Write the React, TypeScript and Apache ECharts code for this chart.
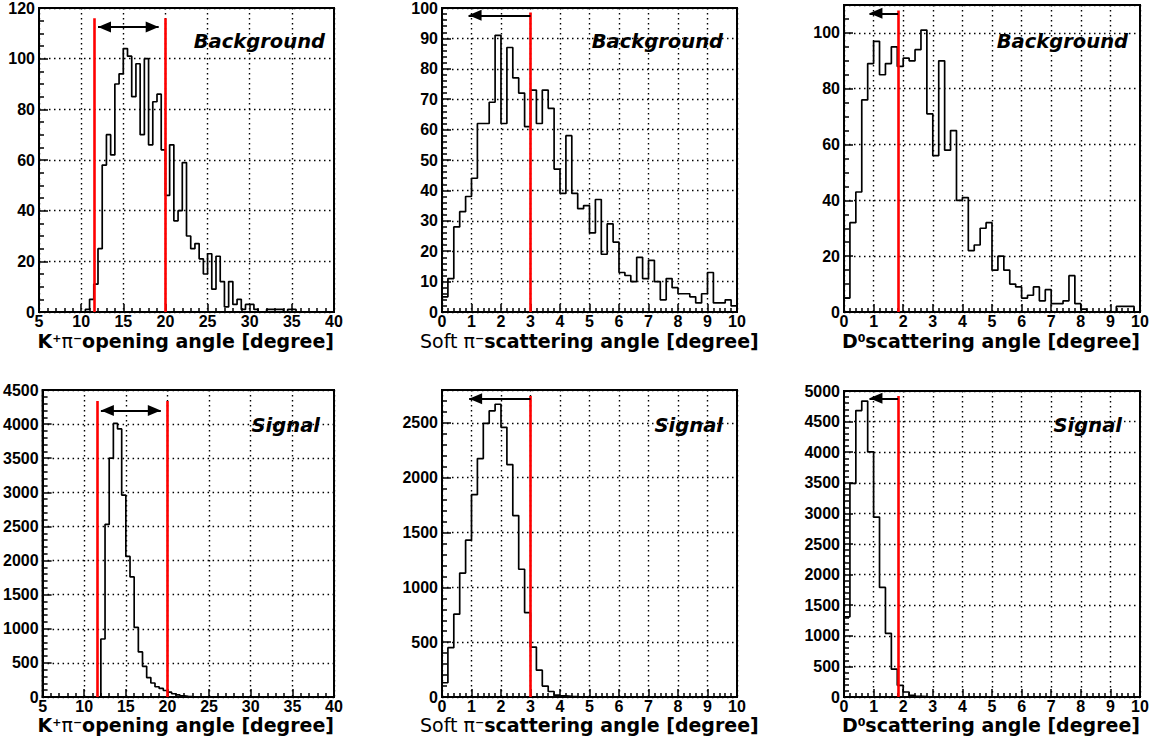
import React, { useEffect, useRef } from "react";
import * as echarts from "echarts";

// ---------- data (counts per bin) ----------
const openingBinWidth = 0.5; // degrees
const scatterBinWidth = 0.2; // degrees

// Background, K+pi- opening angle, first bin starts at 10.5 deg
const bgOpeningStart = 10.5;
const bgOpening = [1, 5, 11, 25, 58, 70, 62, 90, 94, 104, 101, 85, 98, 70, 100, 66, 83, 86, 64, 46, 66, 36, 40, 59, 30, 25, 27, 21, 15, 23, 9, 22, 12, 2, 12, 3, 5, 1, 3, 3, 1, 0, 0, 1, 1, 1, 1, 0, 1, 1];

// Background, soft pi scattering angle, first bin starts at 0
const bgSoftPiStart = 0;
const bgSoftPi = [5, 11, 28, 33, 38, 44, 62, 62, 69, 91, 62, 87, 77, 72, 61, 73, 62, 73, 67, 47, 39, 58, 39, 34, 35, 26, 37, 19, 29, 23, 13, 12, 10, 18, 11, 17, 10, 4, 11, 8, 6, 6, 5, 3, 6, 13, 3, 3, 4, 2];

// Background, D0 scattering angle, first bin starts at 0
const bgD0Start = 0;
const bgD0 = [5, 32, 43, 76, 89, 97, 85, 89, 95, 88, 91, 90, 94, 101, 71, 56, 90, 58, 65, 40, 41, 22, 24, 30, 32, 15, 20, 15, 10, 9, 5, 6, 9, 4, 8, 3, 3, 4, 13, 3, 1, 0, 0, 0, 0, 0, 2, 2, 2, 0];

// Signal, K+pi- opening angle, first bin starts at 12 deg
const sigOpeningStart = 12;
const sigOpening = [850, 2530, 3500, 4010, 3930, 2960, 2060, 1760, 1020, 660, 450, 285, 205, 150, 125, 95, 70, 48, 30, 18, 10, 5, 3, 2];

// Signal, soft pi scattering angle
const sigSoftPiStart = 0;
const sigSoftPi = [130, 450, 755, 1130, 1430, 1845, 2175, 2495, 2610, 2670, 2460, 2120, 1655, 1165, 770, 455, 245, 100, 50, 18, 10, 5, 3, 2, 1];

// Signal, D0 scattering angle
const sigD0Start = 0;
const sigD0 = [1310, 3490, 4680, 4835, 4005, 2940, 1790, 1040, 455, 190, 82, 27, 10, 5, 2];

// Cut values (red lines) and arrow annotations
const openingCuts = [11.6, 20.0];
const softPiCut = [3.0];
const d0Cut = [1.83];
// red line top, arrow y, arrow tip(s)
const bgOpeningMark = { top: 116, arrowY: 112.5, tips: [12.0, 19.2] };
const sigOpeningMark = { top: 4340, arrowY: 4200, tips: [12.0, 19.2] };
const bgSoftPiMark = { top: 98.5, arrowY: 97.6, tips: [0.9] };
const sigSoftPiMark = { top: 2745, arrowY: 2720, tips: [0.92] };
const bgD0Mark = { top: 108, arrowY: 107, tips: [0.86] };
const sigD0Mark = { top: 4920, arrowY: 4880, tips: [0.86] };

// axis ranges: [min, max, interval, minor splits]
const openingX = [5, 40, 5, 5];
const scatterX = [0, 10, 1, 5];
const bgOpeningY = [0, 120, 20, 4];
const bgSoftPiY = [0, 100, 10, 5];
const bgD0Y = [0, 110, 20, 4];
const sigOpeningY = [0, 4500, 500, 5];
const sigSoftPiY = [0, 2800, 500, 5];
const sigD0Y = [0, 5000, 500, 5];

// ---------- helpers ----------
function outline(start: number, width: number, counts: number[]) {
  const pts: number[][] = [[start, 0]];
  counts.forEach((c, i) => pts.push([start + i * width, c]));
  const end = start + counts.length * width;
  pts.push([end, counts[counts.length - 1]]);
  pts.push([end, 0]);
  return pts;
}

const HEAD: any = { symbol: "triangle", symbolSize: [11, 13], symbolOffset: [0, 6.5] };

function marks(cuts: number[], m: { top: number; arrowY: number; tips: number[] }) {
  const data: any[] = cuts.map((x) => [{ coord: [x, 0] }, { coord: [x, m.top] }]);
  const arrowStyle = { color: "#000", width: 2, type: "solid" };
  if (m.tips.length === 2) {
    data.push([
      { coord: [m.tips[0], m.arrowY], ...HEAD, lineStyle: arrowStyle },
      { coord: [m.tips[1], m.arrowY], ...HEAD },
    ]);
  } else {
    data.push([
      { coord: [m.tips[0], m.arrowY], ...HEAD, lineStyle: arrowStyle },
      { coord: [cuts[0], m.arrowY], symbol: "none" },
    ]);
  }
  return {
    silent: true,
    symbol: "none",
    label: { show: false },
    emphasis: { disabled: true },
    lineStyle: { color: "#ff0000", width: 2.6, type: "solid" },
    data,
  };
}

const LABEL_FONT = "'Liberation Sans', Arial, sans-serif";
const TITLE_FONT = "'DejaVu Sans', sans-serif";

const panels = [
  { grid: { left: 39, top: 6, width: 295, height: 306 }, x: openingX, y: bgOpeningY, start: bgOpeningStart, bin: openingBinWidth, counts: bgOpening, cuts: openingCuts, mark: bgOpeningMark },
  { grid: { left: 442, top: 6, width: 295, height: 306 }, x: scatterX, y: bgSoftPiY, start: bgSoftPiStart, bin: scatterBinWidth, counts: bgSoftPi, cuts: softPiCut, mark: bgSoftPiMark },
  { grid: { left: 844, top: 5, width: 296, height: 307 }, x: scatterX, y: bgD0Y, start: bgD0Start, bin: scatterBinWidth, counts: bgD0, cuts: d0Cut, mark: bgD0Mark },
  { grid: { left: 39, top: 390, width: 295, height: 307 }, x: openingX, y: sigOpeningY, start: sigOpeningStart, bin: openingBinWidth, counts: sigOpening, cuts: openingCuts, mark: sigOpeningMark },
  { grid: { left: 442, top: 390, width: 295, height: 307 }, x: scatterX, y: sigSoftPiY, start: sigSoftPiStart, bin: scatterBinWidth, counts: sigSoftPi, cuts: softPiCut, mark: sigSoftPiMark },
  { grid: { left: 844, top: 391, width: 296, height: 306 }, x: scatterX, y: sigD0Y, start: sigD0Start, bin: scatterBinWidth, counts: sigD0, cuts: d0Cut, mark: sigD0Mark },
];

const tickLine = { color: "#000", width: 1.5 };
const gridLine = { color: "#000", width: 1.4, type: [1.5, 3.5] as any };
const labelStyle = {
  color: "#000",
  fontFamily: LABEL_FONT,
  fontWeight: 700 as any,
  fontSize: 16,
  lineHeight: 14,
  formatter: (v: number) => String(v),
};

function buildOption() {
  const grids = panels.map((p) => ({
    ...p.grid,
    show: true,
    borderColor: "#000",
    borderWidth: 2,
    backgroundColor: "#fff",
  }));
  const xAxes = panels.map((p, i) => ({
    type: "value",
    gridIndex: i,
    min: p.x[0],
    max: p.x[1],
    interval: p.x[2],
    axisLine: { show: true, onZero: false, lineStyle: { color: "#000", width: 2 } },
    axisTick: { show: true, inside: true, length: 8, lineStyle: tickLine },
    minorTick: { show: true, splitNumber: p.x[3], length: 4, lineStyle: tickLine },
    axisLabel: { ...labelStyle, margin: 2 },
    splitLine: { show: true, lineStyle: gridLine },
  }));
  const yAxes = panels.map((p, i) => ({
    type: "value",
    gridIndex: i,
    min: p.y[0],
    max: p.y[1],
    interval: p.y[2],
    axisLine: { show: true, onZero: false, lineStyle: { color: "#000", width: 2 } },
    axisTick: { show: true, inside: true, length: 9, lineStyle: tickLine },
    minorTick: { show: true, splitNumber: p.y[3], length: 5, lineStyle: tickLine },
    axisLabel: { ...labelStyle, margin: 4, showMaxLabel: p.y[1] % p.y[2] === 0 },
    splitLine: { show: true, lineStyle: gridLine },
  }));
  const series = panels.map((p, i) => ({
    type: "line",
    xAxisIndex: i,
    yAxisIndex: i,
    step: "end",
    symbol: "none",
    silent: true,
    clip: true,
    lineStyle: { color: "#000", width: 1.7 },
    data: outline(p.start, p.bin, p.counts),
    markLine: marks(p.cuts, p.mark),
  }));

  const tag = (text: string, x: number, y: number) => ({
    type: "text",
    x,
    y,
    silent: true,
    z: 100,
    style: {
      text,
      fill: "#000",
      font: `italic bold 19.5px ${TITLE_FONT}`,
      align: "right",
      verticalAlign: "middle",
    },
  });
  const LH = 16;
  const bold = { fill: "#000", fontFamily: TITLE_FONT, fontWeight: "bold", fontSize: 19, lineHeight: LH };
  const normal = { fill: "#000", fontFamily: TITLE_FONT, fontWeight: "normal", fontSize: 19, lineHeight: LH };
  const sup = { fill: "#000", fontFamily: TITLE_FONT, fontWeight: "bold", fontSize: 11, verticalAlign: "top", lineHeight: LH };
  const richDef = { b: bold, n: normal, s: sup };
  const title = (text: string, x: number, y: number, align: string) => ({
    type: "text",
    x,
    y,
    silent: true,
    z: 100,
    style: { text, rich: richDef, align, verticalAlign: "middle", fill: "#000" },
  });
  const openingTitle = "{b|K}{s|+}{n|π}{s|−}{b|opening angle [degree]}";
  const softTitle = "{n|Soft π}{s|−}{b|scattering angle [degree]}";
  const d0Title = "{b|D}{s|0}{b|scattering angle [degree]}";

  const graphic = [
    tag("Background", 325, 41),
    tag("Background", 723, 41),
    tag("Background", 1128, 41),
    tag("Signal", 320, 425),
    tag("Signal", 723, 425),
    tag("Signal", 1122, 425),
    title(openingTitle, 334, 341, "right"),
    title(softTitle, 420, 341, "left"),
    title(d0Title, 1140, 341, "right"),
    title(openingTitle, 334, 725, "right"),
    title(softTitle, 420, 725, "left"),
    title(d0Title, 1140, 725, "right"),
  ];

  return {
    animation: false,
    backgroundColor: "#fff",
    grid: grids,
    xAxis: xAxes,
    yAxis: yAxes,
    series,
    graphic,
  };
}

export default function App() {
  const ref = useRef<HTMLDivElement>(null);
  useEffect(() => {
    if (!ref.current) return;
    const chart = echarts.init(ref.current, undefined, { renderer: "svg" });
    chart.setOption(buildOption() as any);
    return () => chart.dispose();
  }, []);
  return (
    <div
      ref={ref}
      style={{ position: "fixed", left: 0, top: 0, width: "1162px", height: "744px", background: "#fff" }}
    />
  );
}
